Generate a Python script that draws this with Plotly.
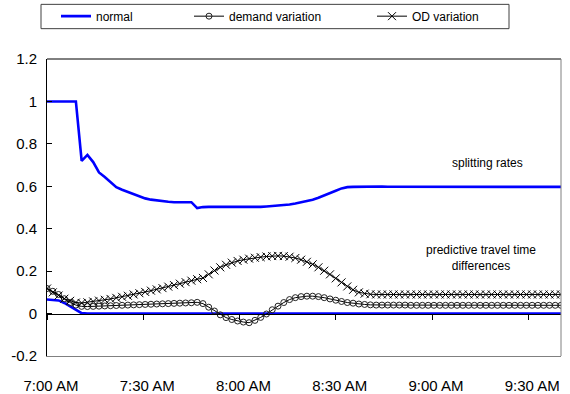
import pandas as pd
import plotly.graph_objects as go

# Sample times: one reading every 108 s from 7:00 AM
times = pd.date_range("2000-01-01 07:00:00", periods=90, freq="108s")

# Splitting rates, normal case
normal_split = [
    1.0, 1.0, 1.0, 1.0, 1.0, 1.0, 0.72, 0.748, 0.714, 0.665,
    0.644, 0.618, 0.596, 0.584, 0.574, 0.563, 0.552, 0.543, 0.537, 0.533,
    0.530, 0.527, 0.525, 0.524, 0.524, 0.525, 0.497, 0.502, 0.503, 0.503,
    0.503, 0.502, 0.500, 0.500, 0.500, 0.501, 0.501, 0.503, 0.505, 0.507,
    0.508, 0.510, 0.514, 0.519, 0.524, 0.530, 0.537, 0.546, 0.556, 0.567,
    0.579, 0.590, 0.596, 0.597, 0.598, 0.597, 0.598, 0.599, 0.599, 0.598,
    0.598, 0.599, 0.600, 0.599, 0.598, 0.598, 0.599, 0.599, 0.598, 0.597,
    0.598, 0.599, 0.599, 0.598, 0.598, 0.599, 0.600, 0.599, 0.598, 0.597,
    0.598, 0.599, 0.599, 0.598, 0.598, 0.599, 0.599, 0.598, 0.598, 0.597,
]

# Predictive travel time differences, normal case
normal_diff = [0.066, 0.065, 0.062, 0.050, 0.033, 0.016, 0.002] + [0.0] * 83

# Predictive travel time differences, demand variation
demand_diff = [
    0.118, 0.105, 0.090, 0.070, 0.052, 0.040, 0.034, 0.033, 0.034, 0.035,
    0.036, 0.037, 0.038, 0.039, 0.040, 0.041, 0.042, 0.043, 0.044, 0.045,
    0.046, 0.047, 0.048, 0.049, 0.050, 0.051, 0.053, 0.047, 0.030, 0.012,
    -0.006, -0.019, -0.028, -0.035, -0.040, -0.043, -0.032, -0.018, -0.002, 0.018,
    0.035, 0.052, 0.066, 0.075, 0.080, 0.082, 0.082, 0.080, 0.075, 0.069,
    0.063, 0.057, 0.052, 0.049, 0.045, 0.043, 0.041, 0.040, 0.040, 0.040,
    0.040, 0.040, 0.040, 0.039, 0.039, 0.039, 0.039, 0.039, 0.039, 0.039,
    0.039, 0.039, 0.039, 0.039, 0.039, 0.039, 0.039, 0.039, 0.039, 0.039,
    0.039, 0.039, 0.039, 0.039, 0.039, 0.039, 0.039, 0.039, 0.039, 0.039,
]

# Predictive travel time differences, OD variation
od_diff = [
    0.118, 0.100, 0.085, 0.070, 0.060, 0.052, 0.050, 0.053, 0.057, 0.061,
    0.065, 0.069, 0.074, 0.079, 0.084, 0.090, 0.096, 0.102, 0.108, 0.114,
    0.120, 0.127, 0.134, 0.141, 0.148, 0.155, 0.162, 0.168, 0.185, 0.203,
    0.218, 0.230, 0.240, 0.248, 0.254, 0.259, 0.263, 0.266, 0.269, 0.271,
    0.272, 0.271, 0.268, 0.262, 0.254, 0.244, 0.232, 0.218, 0.202, 0.185,
    0.166, 0.147, 0.128, 0.112, 0.100, 0.094, 0.091, 0.090, 0.090, 0.090,
    0.090, 0.090, 0.090, 0.090, 0.090, 0.090, 0.090, 0.090, 0.090, 0.090,
    0.090, 0.090, 0.090, 0.090, 0.090, 0.090, 0.090, 0.090, 0.090, 0.090,
    0.090, 0.090, 0.090, 0.090, 0.090, 0.090, 0.090, 0.090, 0.090, 0.090,
]

x_tickvals = ["2000-01-01 07:00", "2000-01-01 07:30", "2000-01-01 08:00",
              "2000-01-01 08:30", "2000-01-01 09:00", "2000-01-01 09:30"]
x_ticktext = ["7:00 AM", "7:30 AM", "8:00 AM", "8:30 AM", "9:00 AM", "9:30 AM"]
y_tickvals = [-0.2, 0, 0.2, 0.4, 0.6, 0.8, 1.0, 1.2]
y_ticktext = ["-0.2", "0", "0.2", "0.4", "0.6", "0.8", "1", "1.2"]

x_range = ["2000-01-01 07:00:00", "2000-01-01 09:40:12"]
FONT = "Liberation Sans, Arial, sans-serif"
BLUE = "#0000FF"

fig = go.Figure()

fig.add_trace(go.Scatter(
    x=times, y=normal_diff, mode="lines", name="normal",
    line=dict(color=BLUE, width=2.6), showlegend=False,
))
fig.add_trace(go.Scatter(
    x=times, y=demand_diff, mode="lines+markers", name="demand variation",
    line=dict(color="black", width=1),
    marker=dict(symbol="circle-open", size=6, color="#222222",
                line=dict(width=1, color="#222222")),
    legend="legend2",
))
fig.add_trace(go.Scatter(
    x=times, y=od_diff, mode="lines+markers", name="OD variation",
    line=dict(color="black", width=1),
    marker=dict(symbol="x-thin", size=8, color="black",
                line=dict(width=1, color="black")),
    legend="legend3",
))
fig.add_trace(go.Scatter(
    x=times, y=normal_split, mode="lines", name="normal",
    line=dict(color=BLUE, width=2.6), xaxis="x2",
    legend="legend",
))

legend_common = dict(
    orientation="h", yanchor="middle", xanchor="left",
    bgcolor="rgba(0,0,0,0)", borderwidth=0,
    font=dict(family=FONT, size=12, color="black"),
)
legend_y = 1 + (59.3 - 16.5) / 296.7

fig.update_layout(
    width=570, height=394,
    margin=dict(l=47, r=9, t=59, b=38, autoexpand=False),
    paper_bgcolor="white", plot_bgcolor="white",
    font=dict(family=FONT, color="black"),
    xaxis=dict(
        type="date", range=x_range, automargin=False,
        tickvals=x_tickvals, ticktext=x_ticktext,
        ticks="", showgrid=False, zeroline=False,
        showline=True, linecolor="#808080", linewidth=1,
        tickfont=dict(family=FONT, size=15, color="black"),
        ticklabelstandoff=16, ticklabelshift=4,
    ),
    xaxis2=dict(
        type="date", range=x_range, overlaying="x", matches="x",
        anchor="free", position=0.2 / 1.4, automargin=False,
        tickvals=x_tickvals, showticklabels=False,
        ticks="outside", ticklen=5, tickcolor="black", tickwidth=1,
        showgrid=False, zeroline=False,
        showline=True, linecolor="black", linewidth=1,
    ),
    yaxis=dict(
        range=[-0.2, 1.2], tickvals=y_tickvals, ticktext=y_ticktext,
        automargin=False,
        ticks="inside", ticklen=5, tickcolor="black",
        showgrid=False, zeroline=False,
        showline=True, linecolor="black", linewidth=1,
        tickfont=dict(family=FONT, size=15, color="black"),
        ticklabelstandoff=6,
    ),
    legend=dict(x=(56 - 47) / 514, y=legend_y, **legend_common),
    legend2=dict(x=(189 - 47) / 514, y=legend_y, **legend_common),
    legend3=dict(x=(372 - 47) / 514, y=legend_y, **legend_common),
    shapes=[
        # plot-area frame: black top edge, grey right edge
        dict(type="line", xref="paper", yref="paper", x0=0, x1=1, y0=1, y1=1,
             line=dict(color="black", width=1)),
        dict(type="line", xref="paper", yref="paper", x0=1, x1=1, y0=0, y1=1,
             line=dict(color="#808080", width=1)),
        # frame around the legend row
        dict(type="rect", xref="paper", yref="paper",
             x0=(41 - 47) / 514, x1=(509 - 47) / 514,
             y0=1 + (59.3 - 29) / 296.7, y1=1 + (59.3 - 4.7) / 296.7,
             line=dict(color="#404040", width=1), fillcolor="rgba(0,0,0,0)"),
    ],
    annotations=[
        dict(x="2000-01-01 09:17:20", y=0.71, text="splitting rates",
             showarrow=False, font=dict(family=FONT, size=12, color="black")),
        dict(x="2000-01-01 09:15:20", y=0.261,
             text="predictive travel time<br>differences",
             showarrow=False, font=dict(family=FONT, size=12, color="black")),
    ],
)

fig.write_html("out.html")
